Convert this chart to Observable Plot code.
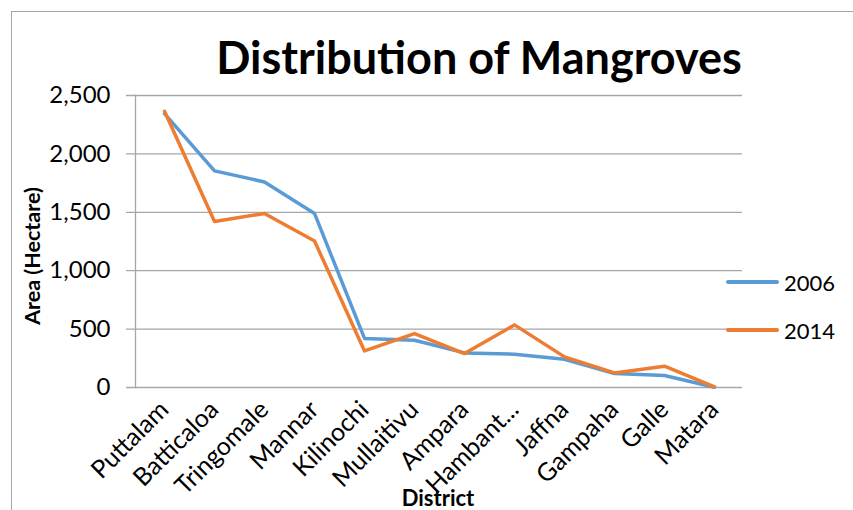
<!DOCTYPE html>
<html><head><meta charset="utf-8">
<script src="https://cdn.jsdelivr.net/npm/d3@7"></script>
<script src="https://cdn.jsdelivr.net/npm/@observablehq/plot@0.6"></script>
<style>
html,body{margin:0;padding:0;background:#fff;overflow:hidden;width:853px;height:510px;}
#wrap{position:relative;width:853px;height:510px;font-family:Lato,"Open Sans",sans-serif;color:#000;overflow:hidden;}
#border{position:absolute;left:11px;top:11px;width:1000px;height:1000px;border-left:1.5px solid #a6a6a6;border-top:1.5px solid #a6a6a6;}
#chart{position:absolute;left:0;top:0;}
#title{position:absolute;left:0;top:35px;width:958px;text-align:center;font-weight:bold;font-size:45px;line-height:45px;white-space:nowrap;}
#ylab{position:absolute;left:32px;top:256px;transform:translate(-50%,-50%) rotate(-90deg);font-weight:bold;font-size:21.5px;white-space:nowrap;}
#xlab{position:absolute;left:438px;top:490px;transform:translateX(-50%);font-weight:bold;font-size:22px;line-height:16px;white-space:nowrap;}
.leg{position:absolute;left:726px;height:24px;display:flex;align-items:center;font-size:22px;}
.leg span.sw{display:inline-block;width:53px;height:3.5px;border-radius:2px;margin-right:5px;}
</style></head>
<body>
<div id="wrap">
  <div id="border"></div>
  <div id="chart"></div>
  <div id="title"></div>
  <div id="ylab"></div>
  <div id="xlab"></div>
  <div id="legend"></div>
</div>
<script>
const titleText = "Distribution of Mangroves";
const yLabel = "Area (Hectare)";
const xLabel = "District";
const districts = ["Puttalam","Batticaloa","Tringomale","Mannar","Kilinochi","Mullaitivu","Ampara","Hambant...","Jaffna","Gampaha","Galle","Matara"];
const years = ["2006","2014"];
const colors = ["#5B9BD5","#ED7D31"];
const area2006 = [2345,1855,1760,1490,420,405,296,285,242,120,103,2];
const area2014 = [2365,1421,1490,1255,313,462,291,536,262,125,182,5];
const yTicks = [0,500,1000,1500,2000,2500];

const data = [];
districts.forEach((d,i)=>data.push({district:d, year:years[0], area:area2006[i]}));
districts.forEach((d,i)=>data.push({district:d, year:years[1], area:area2014[i]}));

const chart = Plot.plot({
  width:853, height:510, marginTop:95, marginBottom:123, marginLeft:135, marginRight:111,
  style:{fontFamily:"Lato, 'Open Sans', sans-serif", fontSize:"24px", color:"#000", background:"transparent", overflow:"visible"},
  x:{type:"point", domain:districts, padding:0.5, label:null},
  y:{domain:[0,2500], label:null},
  color:{domain:years, range:colors},
  marks:[
    Plot.ruleY(yTicks, {stroke:"#a6a6a6", strokeWidth:1.3, insetLeft:-9}),
    Plot.axisY(yTicks, {tickSize:0, tickPadding:25, tickFormat:d3.format(","), label:null, fontSize:24}),
    Plot.axisX({tickSize:0, tickRotate:-45, tickPadding:18, label:null, fontSize:25}),
    Plot.frame({anchor:"left", stroke:"#a6a6a6", strokeWidth:1.3}),
    Plot.line(data, {x:"district", y:"area", stroke:"year", z:"year", strokeWidth:3.5})
  ]
});
document.getElementById("chart").appendChild(chart);
document.getElementById("title").textContent = titleText;
document.getElementById("ylab").textContent = yLabel;
document.getElementById("xlab").textContent = xLabel;
const legY = [282, 330];
const leg = document.getElementById("legend");
years.forEach((yr,i)=>{
  const div = document.createElement("div");
  div.className = "leg";
  div.style.top = (legY[i]-12) + "px";
  const sw = document.createElement("span");
  sw.className = "sw"; sw.style.background = colors[i];
  div.appendChild(sw);
  div.appendChild(document.createTextNode(yr));
  leg.appendChild(div);
});
</script>
</body></html>
